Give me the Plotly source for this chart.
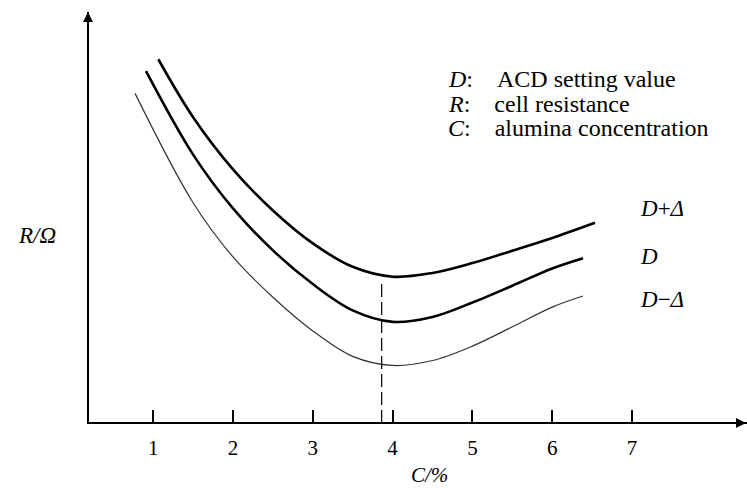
import plotly.graph_objects as go

# ---- data (C in %, R in arbitrary units) ----
c_upper = [1.064, 1.5, 2.0, 2.5, 3.0, 3.5, 4.0, 4.5, 5.0, 5.5, 6.0, 6.536]
r_upper = [8.85, 7.44, 6.17, 5.17, 4.37, 3.80, 3.56, 3.65, 3.89, 4.19, 4.50, 4.87]

c_mid = [0.910, 1.5, 2.0, 2.5, 3.0, 3.5, 4.0, 4.5, 5.0, 5.5, 6.0, 6.386]
r_mid = [8.56, 6.53, 5.22, 4.20, 3.38, 2.74, 2.46, 2.58, 2.93, 3.34, 3.76, 4.01]

c_low = [0.772, 1.5, 2.0, 2.5, 3.0, 3.5, 4.0, 4.5, 5.0, 5.5, 6.0, 6.386]
r_low = [8.02, 5.36, 4.04, 3.06, 2.24, 1.62, 1.40, 1.52, 1.87, 2.34, 2.82, 3.09]

c_opt = [3.863, 3.863]
r_opt = [0.0, 3.48]

tick_vals = [1, 2, 3, 4, 5, 6, 7]
tick_text = ["1", "2", "3", "4", "5", "6", "7"]

NB = "\u00a0"
legend_lines = ["<i>D</i>:" + NB * 4 + "ACD setting value",
                "<i>R</i>:" + NB * 4 + "cell resistance",
                "<i>C</i>:" + NB * 4 + "alumina concentration"]
curve_labels = ["<i>D</i>+<i>Δ</i>", "<i>D</i>", "<i>D</i>−<i>Δ</i>"]

FONT = "Times New Roman, Liberation Serif, serif"

fig = go.Figure()
fig.add_trace(go.Scatter(x=c_upper, y=r_upper, mode="lines",
                         line=dict(color="black", width=2.6, shape="spline", smoothing=1.0),
                         hoverinfo="skip", showlegend=False))
fig.add_trace(go.Scatter(x=c_mid, y=r_mid, mode="lines",
                         line=dict(color="black", width=2.6, shape="spline", smoothing=1.0),
                         hoverinfo="skip", showlegend=False))
fig.add_trace(go.Scatter(x=c_low, y=r_low, mode="lines",
                         line=dict(color="#333333", width=1.2, shape="spline", smoothing=1.0),
                         hoverinfo="skip", showlegend=False))
fig.add_trace(go.Scatter(x=c_opt, y=r_opt, mode="lines",
                         line=dict(color="black", width=1.2, dash="13px,5px"),
                         hoverinfo="skip", showlegend=False))

L, R_, T, B = 89, 0, 12, 66
W, H = 747, 488
pw, ph = W - L - R_, H - T - B


def px_x(px):
    return (px - L) / pw


def px_y(py):
    return (H - B - py) / ph


annotations = []
for i, txt in enumerate(legend_lines):
    annotations.append(dict(text=txt, xref="paper", yref="paper",
                            x=px_x(446), y=px_y([79, 104, 128][i]),
                            xanchor="left", yanchor="middle", showarrow=False,
                            font=dict(family=FONT, size=24, color="black")))
for i, txt in enumerate(curve_labels):
    annotations.append(dict(text=txt, xref="paper", yref="paper",
                            x=px_x(638), y=px_y([208, 256, 299][i]),
                            xanchor="left", yanchor="middle", showarrow=False,
                            font=dict(family=FONT, size=23, color="black")))
annotations.append(dict(text="<i>R/Ω</i>", xref="paper", yref="paper",
                        x=px_x(37), y=px_y(235), xanchor="center", yanchor="middle",
                        showarrow=False, font=dict(family=FONT, size=23, color="black")))
annotations.append(dict(text="<i>C/%</i>", xref="paper", yref="paper",
                        x=px_x(430), y=px_y(475), xanchor="center", yanchor="middle",
                        showarrow=False, font=dict(family=FONT, size=21, color="black")))
# axis arrows
annotations.append(dict(text="", xref="paper", yref="paper", x=px_x(746.5), y=px_y(423),
                        ax=-20, ay=0, showarrow=True, arrowhead=2, arrowsize=1,
                        arrowwidth=2, arrowcolor="black"))
annotations.append(dict(text="", xref="paper", yref="paper", x=px_x(88), y=px_y(12),
                        ax=0, ay=20, showarrow=True, arrowhead=2, arrowsize=1,
                        arrowwidth=2, arrowcolor="black"))

fig.update_layout(
    width=W, height=H,
    margin=dict(l=L, r=R_, t=T, b=B, pad=0),
    paper_bgcolor="white", plot_bgcolor="white",
    font=dict(family=FONT, color="black"),
    xaxis=dict(range=[(L - 73.4) / 79.8, (W - 73.4) / 79.8],
               showgrid=False, zeroline=False, showline=True, linecolor="black",
               linewidth=2, ticks="inside", ticklen=12, tickwidth=2, tickcolor="black",
               tickvals=tick_vals, ticktext=tick_text, ticklabelstandoff=6,
               tickfont=dict(family=FONT, size=21, color="black")),
    yaxis=dict(range=[(423 - (H - B)) / 41.1, (423 - T) / 41.1],
               showgrid=False, zeroline=False, showline=True, linecolor="black",
               linewidth=2, showticklabels=False, ticks=""),
    annotations=annotations,
    showlegend=False,
)

fig.write_html("out.html")
